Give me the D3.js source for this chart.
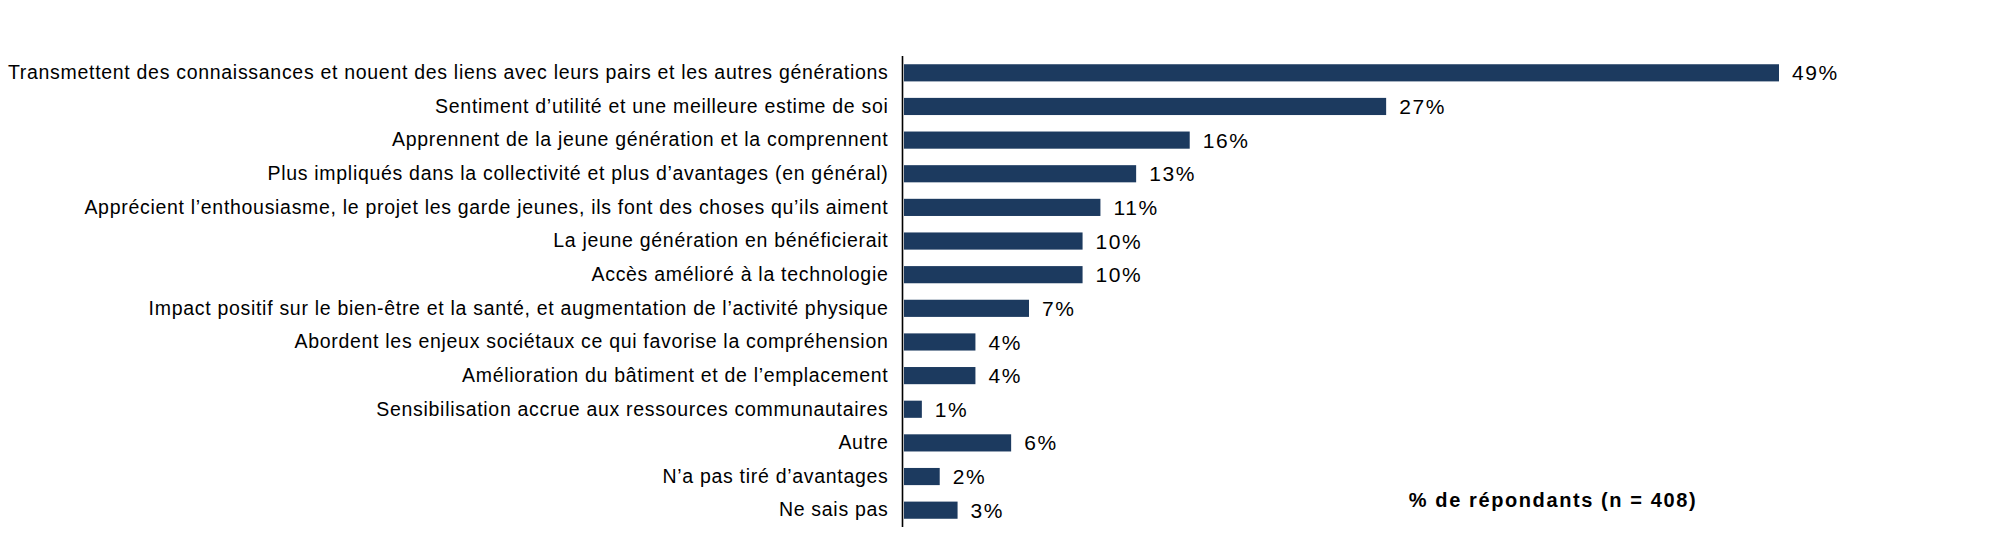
<!DOCTYPE html>
<html>
<head>
<meta charset="utf-8">
<script src="https://cdn.jsdelivr.net/npm/d3@7"></script>
<style>
  body { margin: 0; background: #fff; }
  svg { display: block; }
  text { font-family: "Liberation Sans", Arial, sans-serif; fill: #000; }
</style>
</head>
<body>
<svg id="chart" width="2000" height="550"></svg>
<script>
const categories = [
  "Transmettent des connaissances et nouent des liens avec leurs pairs et les autres générations",
  "Sentiment d’utilité et une meilleure estime de soi",
  "Apprennent de la jeune génération et la comprennent",
  "Plus impliqués  dans la collectivité et plus d’avantages (en général)",
  "Apprécient l’enthousiasme, le projet les garde jeunes, ils font des choses qu’ils aiment",
  "La jeune génération en bénéficierait",
  "Accès amélioré à la technologie",
  "Impact positif sur le bien-être et la santé, et augmentation de l’activité physique",
  "Abordent les enjeux sociétaux ce qui favorise la compréhension",
  "Amélioration du bâtiment et de l’emplacement",
  "Sensibilisation accrue aux ressources communautaires",
  "Autre ",
  "N’a pas tiré d’avantages",
  "Ne sais pas"
];
const values = [49, 27, 16, 13, 11, 10, 10, 7, 4, 4, 1, 6, 2, 3];
const valueLabels = ["49%", "27%", "16%", "13%", "11%", "10%", "10%", "7%", "4%", "4%", "1%", "6%", "2%", "3%"];
const axisTitle = "% de répondants (n = 408)";

const svg = d3.select("#chart");
const axisX = 902.5;
const x = d3.scaleLinear().domain([0, 49]).range([axisX + 1.5, axisX + 1.5 + 875]);
const y = d3.scaleBand().domain(categories).range([56, 527]).paddingInner(0.49).paddingOuter(0.245);

svg.append("g").selectAll("rect").data(values).join("rect")
  .attr("x", x(0))
  .attr("y", (d, i) => y(categories[i]))
  .attr("width", d => x(d) - x(0))
  .attr("height", y.bandwidth())
  .attr("fill", "#1c3a5f");

svg.append("g").selectAll("text").data(valueLabels).join("text")
  .attr("x", (d, i) => x(values[i]) + 13)
  .attr("y", (d, i) => y(categories[i]) + y.bandwidth() / 2)
  .attr("dy", "0.36em")
  .attr("font-size", 21)
  .attr("letter-spacing", 1.6)
  .text(d => d);

// category axis
const yAxis = d3.axisLeft(y).tickSize(0).tickPadding(14);
const gy = svg.append("g").attr("transform", `translate(${axisX},0)`).call(yAxis);
gy.select(".domain").remove();
gy.selectAll("text")
  .attr("font-size", 19.5)
  .attr("letter-spacing", 0.7)
  .attr("font-family", "\"Liberation Sans\", Arial, sans-serif")
  .attr("fill", "#000");
svg.append("line").attr("x1", axisX).attr("x2", axisX).attr("y1", 56).attr("y2", 527)
  .attr("stroke", "#000").attr("stroke-width", 1.6);

svg.append("text")
  .attr("x", 1553).attr("y", 507)
  .attr("text-anchor", "middle")
  .attr("font-size", 20).attr("font-weight", "bold")
  .attr("letter-spacing", 1.6)
  .text(axisTitle);
</script>
</body>
</html>
